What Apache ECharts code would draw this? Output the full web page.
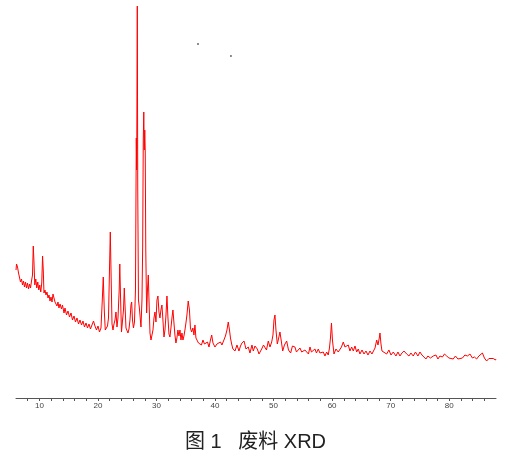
<!DOCTYPE html>
<html>
<head>
<meta charset="utf-8">
<script src="https://cdn.jsdelivr.net/npm/echarts@6/dist/echarts.min.js"></script>
<style>
  html, body { margin: 0; padding: 0; background: #fff; }
  #chart { width: 511px; height: 456px; }
</style>
</head>
<body>
<div id="chart"></div>
<script>
// 2theta (deg) and intensity
const twoTheta = [
  6.00, 6.09, 6.26, 6.43, 6.60, 6.77, 6.94, 7.11, 7.28, 7.45, 7.62, 7.79, 7.96, 8.14, 8.31, 8.48, 8.65, 8.82, 8.95, 9.07,
  9.21, 9.38, 9.55, 9.72, 9.89, 10.06, 10.23, 10.40, 10.54, 10.66, 10.78, 10.95, 11.12, 11.29, 11.47, 11.64, 11.81, 11.98, 12.15, 12.32,
  12.49, 12.66, 12.83, 13.00, 13.17, 13.34, 13.52, 13.77, 13.94, 14.20, 14.37, 14.63, 14.88, 15.14, 15.40, 15.65, 15.91, 16.16, 16.42, 16.68,
  16.93, 17.19, 17.44, 17.70, 17.96, 18.21, 18.47, 18.72, 18.98, 19.24, 19.49, 19.75, 20.01, 20.26, 20.52, 20.74, 20.91, 21.08, 21.25, 21.46,
  21.63, 21.80, 21.97, 22.11, 22.23, 22.40, 22.57, 22.74, 22.91, 23.08, 23.25, 23.42, 23.63, 23.73, 23.85, 24.02, 24.19, 24.36, 24.50, 24.62,
  24.79, 24.96, 25.13, 25.30, 25.47, 25.64, 25.76, 25.90, 26.07, 26.24, 26.41, 26.55, 26.62, 26.72, 26.80, 26.92, 27.06, 27.18, 27.35, 27.52,
  27.64, 27.74, 27.83, 27.91, 28.00, 28.08, 28.17, 28.32, 28.46, 28.60, 28.72, 28.89, 29.06, 29.23, 29.40, 29.57, 29.74, 29.91, 30.08, 30.25,
  30.42, 30.59, 30.76, 30.93, 31.10, 31.28, 31.45, 31.62, 31.79, 31.96, 32.13, 32.30, 32.47, 32.64, 32.81, 32.98, 33.15, 33.32, 33.49, 33.66,
  33.84, 34.01, 34.18, 34.35, 34.52, 34.69, 34.86, 35.03, 35.20, 35.42, 35.63, 35.80, 36.00, 36.22, 36.40, 36.57, 36.74, 36.96, 37.17, 37.43,
  37.68, 37.94, 38.20, 38.45, 38.71, 38.97, 39.22, 39.43, 39.65, 39.99, 40.33, 40.67, 40.93, 41.18, 41.52, 41.78, 42.04, 42.26, 42.47, 42.64,
  42.84, 43.06, 43.41, 43.75, 44.09, 44.35, 44.60, 44.95, 45.29, 45.68, 45.97, 46.31, 46.54, 46.82, 47.22, 47.51, 47.97, 48.28, 48.53, 48.79,
  49.10, 49.39, 49.68, 49.90, 50.07, 50.24, 50.41, 50.64, 50.84, 51.09, 51.32, 51.56, 51.86, 52.24, 52.55, 52.92, 53.23, 53.65, 53.91, 54.22,
  54.51, 54.80, 55.11, 55.36, 55.70, 55.96, 56.22, 56.47, 56.78, 57.07, 57.33, 57.64, 57.92, 58.18, 58.49, 58.78, 59.07, 59.34, 59.55, 59.72,
  59.89, 60.06, 60.32, 60.66, 61.05, 61.34, 61.60, 61.91, 62.20, 62.49, 62.76, 63.05, 63.34, 63.62, 63.91, 64.20, 64.47, 64.76, 65.11, 65.45,
  65.79, 66.13, 66.47, 66.81, 67.07, 67.33, 67.62, 67.84, 68.06, 68.18, 68.35, 68.52, 68.86, 69.32, 69.71, 70.06, 70.45, 70.91, 71.25, 71.59,
  71.93, 72.28, 72.74, 73.13, 73.47, 73.86, 74.24, 74.66, 75.01, 75.35, 75.69, 76.03, 76.37, 76.80, 77.28, 77.74, 78.08, 78.42, 78.85, 79.20,
  79.57, 79.96, 80.30, 80.69, 81.07, 81.50, 81.84, 82.27, 82.69, 83.12, 83.55, 83.97, 84.32, 84.69, 85.08, 85.42, 85.68, 85.82, 86.02, 86.40,
  86.79, 87.13, 87.53, 87.90, 88.00
];
const intensity = [
  1280, 1340, 1310, 1250, 1230, 1160, 1190, 1130, 1170, 1110, 1160, 1100, 1150, 1090, 1140, 1100, 1170, 1230, 1520, 1360,
  1130, 1190, 1100, 1160, 1080, 1130, 1060, 1150, 1420, 1280, 1050, 1080, 1030, 1060, 1000, 1030, 970, 1010, 960, 1040,
  1050, 960, 980, 920, 960, 900, 940, 890, 930, 850, 900, 830, 870, 810, 850, 780, 820, 760, 800, 740,
  780, 730, 770, 710, 750, 700, 740, 690, 730, 770, 720, 680, 720, 660, 700, 980, 1210, 880, 680, 700,
  720, 800, 1280, 1660, 1280, 740, 680, 740, 780, 860, 710, 800, 1080, 1340, 1030, 660, 770, 880, 1100, 930,
  700, 680, 650, 690, 780, 930, 960, 780, 700, 760, 1080, 2600, 2280, 3920, 2080, 980, 910, 830, 710, 980,
  1510, 2580, 2860, 2480, 2680, 2460, 1480, 850, 1080, 1230, 980, 650, 580, 600, 680, 800, 860, 760, 980, 1020,
  860, 800, 880, 930, 780, 610, 680, 830, 1020, 800, 640, 610, 700, 800, 880, 860, 630, 550, 600, 680,
  620, 680, 580, 650, 580, 620, 680, 750, 830, 970, 880, 700, 660, 700, 630, 730, 600, 580, 550, 560,
  530, 580, 540, 530, 560, 510, 580, 630, 550, 510, 540, 520, 560, 530, 580, 620, 680, 760, 680, 600,
  540, 490, 470, 530, 470, 520, 550, 570, 490, 510, 450, 530, 470, 520, 490, 440, 490, 530, 510, 480,
  570, 510, 560, 630, 780, 830, 680, 540, 590, 660, 570, 470, 530, 570, 480, 450, 520, 510, 460, 450,
  500, 460, 440, 480, 500, 440, 510, 460, 440, 490, 450, 490, 450, 430, 460, 420, 460, 430, 500, 600,
  750, 580, 440, 490, 460, 470, 510, 560, 510, 500, 530, 470, 510, 470, 520, 460, 490, 440, 480, 440,
  470, 430, 470, 440, 470, 500, 580, 530, 600, 650, 540, 470, 460, 440, 480, 430, 460, 420, 460, 420,
  450, 470, 440, 420, 450, 420, 460, 420, 460, 430, 410, 390, 420, 400, 420, 430, 390, 420, 410, 440,
  420, 400, 410, 390, 420, 390, 410, 400, 430, 420, 440, 400, 410, 390, 420, 430, 450, 470, 400, 370,
  395, 375, 395, 380, 390
];
// two stray specks above the trace
const speckTheta = [37.09, 42.72];
const speckValue = [3540, 3420];

const xTickLabels = [10, 20, 30, 40, 50, 60, 70, 80];

const chart = echarts.init(document.getElementById('chart'));

chart.setOption({
  animation: false,
  title: {
    text: '图 1   废料 XRD',
    left: 'center',
    top: 427,
    textStyle: {
      fontFamily: 'Liberation Sans, Noto Sans CJK SC',
      fontSize: 20,
      fontWeight: 'normal',
      color: '#222'
    }
  },
  grid: {
    left: 16,
    right: 15,
    top: 5,
    bottom: 58
  },
  xAxis: {
    type: 'value',
    min: 6,
    max: 88,
    interval: 2,
    axisLine: { lineStyle: { color: '#555', width: 1 } },
    axisTick: { length: 3, lineStyle: { color: '#555' } },
    splitLine: { show: false },
    axisLabel: {
      fontSize: 8,
      color: '#444',
      margin: 4,
      fontFamily: 'Liberation Sans',
      showMinLabel: false,
      showMaxLabel: false,
      formatter: v => xTickLabels.indexOf(v) >= 0 ? String(v) : ''
    }
  },
  yAxis: {
    type: 'value',
    min: 0,
    max: 3930,
    show: false
  },
  series: [
    {
      type: 'line',
      data: twoTheta.map((t, i) => [t, intensity[i]]),
      showSymbol: false,
      lineStyle: { color: '#ff0000', width: 1 },
      z: 2
    },
    {
      type: 'scatter',
      data: speckTheta.map((t, i) => [t, speckValue[i]]),
      symbolSize: 2,
      itemStyle: { color: '#444' }
    }
  ]
});
</script>
</body>
</html>
